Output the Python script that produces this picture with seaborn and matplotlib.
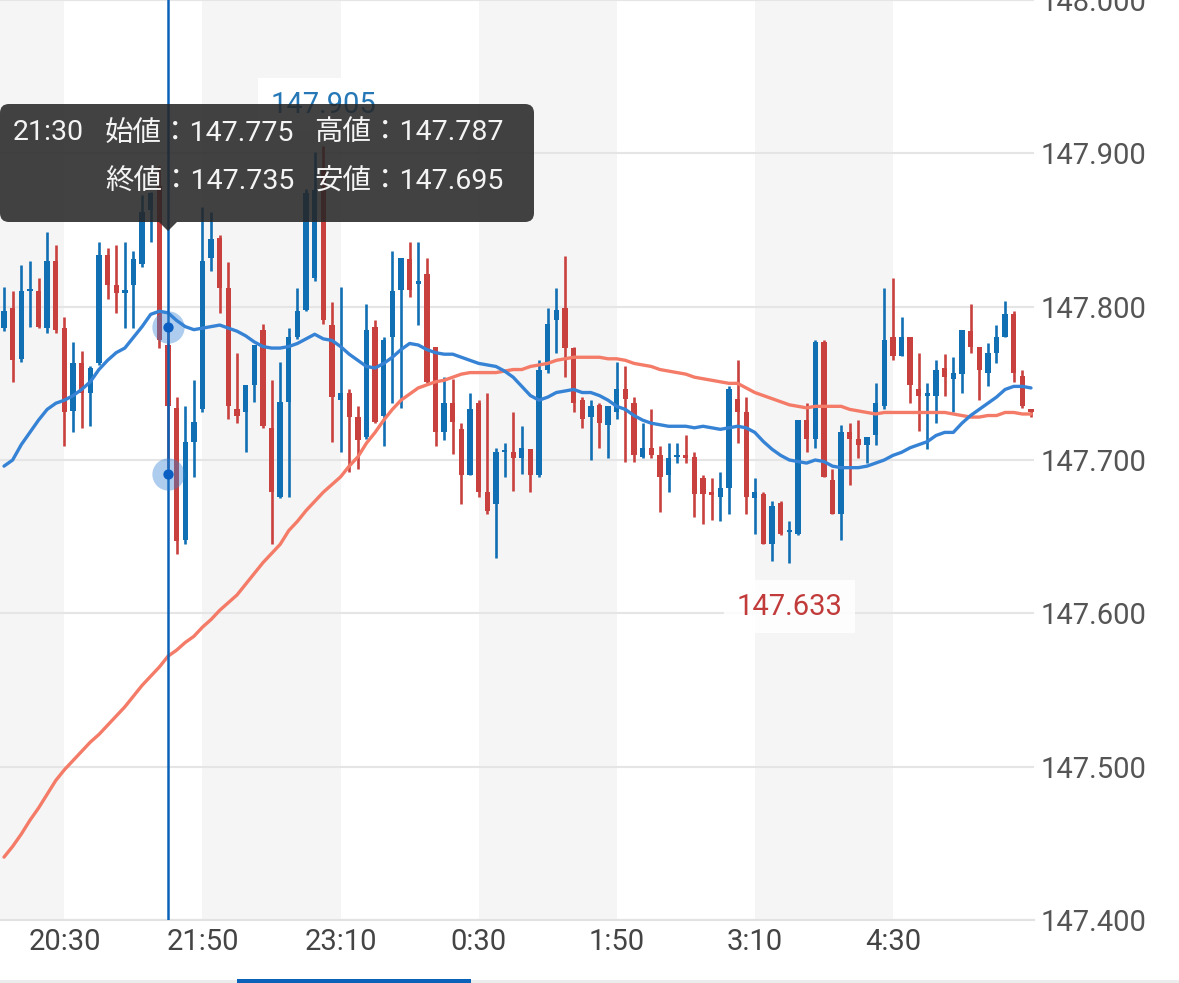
import numpy as np
import pandas as pd
import matplotlib.pyplot as plt
import seaborn as sns
from matplotlib.patches import FancyBboxPatch, Polygon, Rectangle
from matplotlib.transforms import IdentityTransform

# 5分足 19:55 - 5:50 (USD/JPY)
opens = [147.786, 147.799, 147.766, 147.810, 147.810, 147.786, 147.830, 147.786, 147.732, 147.763,
         147.744, 147.763, 147.834, 147.814, 147.809, 147.814, 147.828, 147.863, 147.879, 147.775,
         147.734, 147.648, 147.712, 147.733, 147.832, 147.845, 147.812, 147.733, 147.731, 147.749,
         147.785, 147.721, 147.676, 147.738, 147.780, 147.798, 147.819, 147.889, 147.788, 147.739,
         147.744, 147.728, 147.715, 147.787, 147.729, 147.780, 147.811, 147.831, 147.815, 147.821,
         147.774, 147.718, 147.737, 147.720, 147.690, 147.737, 147.679, 147.671, 147.705, 147.705,
         147.701, 147.707, 147.690, 147.759, 147.791, 147.799, 147.773, 147.739, 147.728, 147.736,
         147.723, 147.731, 147.746, 147.737, 147.702, 147.708, 147.703, 147.690, 147.702, 147.703,
         147.702, 147.688, 147.679, 147.676, 147.682, 147.740, 147.731, 147.675, 147.678, 147.645,
         147.672, 147.653, 147.652, 147.726, 147.714, 147.777, 147.687, 147.665, 147.718, 147.714,
         147.710, 147.716, 147.735, 147.780, 147.768, 147.780, 147.746, 147.742, 147.742, 147.760,
         147.753, 147.756, 147.784, 147.774, 147.757, 147.770, 147.780, 147.795, 147.755, 147.733]
highs = [147.813, 147.810, 147.827, 147.830, 147.819, 147.849, 147.840, 147.793, 147.777, 147.771,
         147.761, 147.842, 147.838, 147.840, 147.842, 147.836, 147.873, 147.875, 147.892, 147.787,
         147.741, 147.735, 147.752, 147.865, 147.862, 147.847, 147.829, 147.770, 147.749, 147.775,
         147.789, 147.752, 147.764, 147.786, 147.812, 147.877, 147.901, 147.905, 147.803, 147.813,
         147.746, 147.735, 147.802, 147.791, 147.780, 147.836, 147.832, 147.842, 147.842, 147.832,
         147.774, 147.754, 147.753, 147.724, 147.744, 147.739, 147.744, 147.708, 147.711, 147.731,
         147.722, 147.707, 147.765, 147.799, 147.812, 147.833, 147.774, 147.741, 147.739, 147.737,
         147.735, 147.764, 147.761, 147.741, 147.724, 147.733, 147.709, 147.711, 147.711, 147.716,
         147.705, 147.690, 147.688, 147.692, 147.748, 147.765, 147.741, 147.688, 147.679, 147.673,
         147.673, 147.660, 147.726, 147.737, 147.778, 147.778, 147.694, 147.723, 147.724, 147.726,
         147.715, 147.750, 147.812, 147.819, 147.793, 147.780, 147.770, 147.750, 147.765, 147.769,
         147.767, 147.785, 147.802, 147.774, 147.776, 147.788, 147.804, 147.797, 147.759, 147.733]
lows = [147.784, 147.751, 147.764, 147.787, 147.786, 147.783, 147.783, 147.709, 147.718, 147.721,
        147.722, 147.762, 147.805, 147.796, 147.786, 147.786, 147.826, 147.842, 147.773, 147.695,
        147.639, 147.645, 147.689, 147.731, 147.823, 147.796, 147.727, 147.724, 147.705, 147.738,
        147.721, 147.645, 147.675, 147.676, 147.779, 147.797, 147.817, 147.789, 147.712, 147.705,
        147.692, 147.694, 147.714, 147.724, 147.709, 147.737, 147.734, 147.806, 147.788, 147.750,
        147.709, 147.713, 147.704, 147.671, 147.690, 147.676, 147.665, 147.636, 147.689, 147.680,
        147.691, 147.679, 147.689, 147.757, 147.770, 147.754, 147.731, 147.721, 147.700, 147.708,
        147.701, 147.727, 147.699, 147.699, 147.701, 147.701, 147.666, 147.679, 147.698, 147.698,
        147.663, 147.658, 147.661, 147.660, 147.665, 147.711, 147.665, 147.652, 147.645, 147.634,
        147.651, 147.633, 147.651, 147.705, 147.708, 147.689, 147.665, 147.648, 147.684, 147.701,
        147.698, 147.710, 147.733, 147.765, 147.768, 147.737, 147.719, 147.707, 147.724, 147.742,
        147.731, 147.744, 147.770, 147.739, 147.748, 147.763, 147.780, 147.751, 147.734, 147.728]
closes = [147.797, 147.765, 147.810, 147.811, 147.787, 147.830, 147.785, 147.731, 147.763, 147.744,
          147.760, 147.834, 147.814, 147.809, 147.811, 147.831, 147.862, 147.874, 147.778, 147.735,
          147.647, 147.712, 147.725, 147.830, 147.844, 147.812, 147.735, 147.729, 147.749, 147.775,
          147.722, 147.679, 147.738, 147.780, 147.797, 147.874, 147.876, 147.791, 147.741, 147.744,
          147.728, 147.713, 147.785, 147.725, 147.778, 147.810, 147.832, 147.811, 147.817, 147.751,
          147.718, 147.737, 147.725, 147.690, 147.733, 147.679, 147.667, 147.705, 147.706, 147.701,
          147.708, 147.690, 147.759, 147.789, 147.798, 147.773, 147.737, 147.727, 147.735, 147.724,
          147.735, 147.746, 147.740, 147.703, 147.708, 147.703, 147.689, 147.701, 147.703, 147.701,
          147.678, 147.678, 147.677, 147.682, 147.746, 147.731, 147.676, 147.679, 147.645, 147.670,
          147.652, 147.654, 147.726, 147.714, 147.777, 147.689, 147.665, 147.718, 147.714, 147.710,
          147.715, 147.737, 147.778, 147.768, 147.780, 147.749, 147.742, 147.744, 147.759, 147.754,
          147.757, 147.785, 147.774, 147.759, 147.770, 147.780, 147.795, 147.757, 147.735, 147.731]

# 移動平均線 (短期・長期)
ma_short = [147.696, 147.700, 147.710, 147.718, 147.726, 147.733, 147.737, 147.739, 147.742, 147.746,
            147.751, 147.759, 147.765, 147.770, 147.773, 147.780, 147.787, 147.795, 147.797, 147.796,
            147.791, 147.787, 147.785, 147.786, 147.787, 147.788, 147.786, 147.784, 147.781, 147.777,
            147.774, 147.773, 147.773, 147.774, 147.776, 147.779, 147.782, 147.779, 147.778, 147.774,
            147.769, 147.765, 147.761, 147.760, 147.763, 147.767, 147.772, 147.776, 147.775, 147.772,
            147.770, 147.769, 147.769, 147.767, 147.765, 147.763, 147.762, 147.761, 147.758, 147.754,
            147.748, 147.742, 147.739, 147.741, 147.744, 147.745, 147.746, 147.744, 147.744, 147.742,
            147.739, 147.735, 147.733, 147.729, 147.726, 147.724, 147.723, 147.722, 147.722, 147.722,
            147.721, 147.722, 147.721, 147.720, 147.721, 147.722, 147.721, 147.718, 147.712, 147.707,
            147.703, 147.700, 147.699, 147.698, 147.700, 147.699, 147.696, 147.695, 147.695, 147.695,
            147.696, 147.698, 147.700, 147.703, 147.705, 147.708, 147.710, 147.712, 147.716, 147.718,
            147.718, 147.724, 147.729, 147.733, 147.737, 147.741, 147.746, 147.748, 147.748, 147.747]
ma_long = [147.441, 147.448, 147.456, 147.465, 147.473, 147.482, 147.491, 147.498, 147.504, 147.510,
           147.516, 147.521, 147.527, 147.533, 147.539, 147.546, 147.553, 147.559, 147.565, 147.572,
           147.576, 147.581, 147.585, 147.591, 147.596, 147.602, 147.607, 147.612, 147.619, 147.626,
           147.633, 147.639, 147.645, 147.654, 147.660, 147.667, 147.673, 147.679, 147.684, 147.689,
           147.696, 147.702, 147.711, 147.718, 147.726, 147.733, 147.739, 147.743, 147.747, 147.749,
           147.751, 147.752, 147.754, 147.756, 147.757, 147.757, 147.757, 147.757, 147.758, 147.759,
           147.759, 147.761, 147.762, 147.763, 147.765, 147.766, 147.767, 147.767, 147.767, 147.767,
           147.766, 147.766, 147.765, 147.763, 147.762, 147.761, 147.759, 147.758, 147.757, 147.756,
           147.754, 147.753, 147.752, 147.751, 147.750, 147.750, 147.747, 147.744, 147.742, 147.740,
           147.738, 147.736, 147.735, 147.734, 147.735, 147.735, 147.735, 147.735, 147.733, 147.732,
           147.731, 147.730, 147.731, 147.731, 147.731, 147.731, 147.731, 147.731, 147.731, 147.731,
           147.730, 147.729, 147.728, 147.728, 147.729, 147.729, 147.731, 147.731, 147.730, 147.730]

tick_pos = [7, 23, 39, 55, 71, 87, 103]
tick_labels = ['20:30', '21:50', '23:10', '0:30', '1:50', '3:10', '4:30']
y_ticks = [147.4, 147.5, 147.6, 147.7, 147.8, 147.9, 148.0]

cursor_idx = 19
cursor_marks = [147.787, 147.691]
hi_idx, lo_idx = 37, 91

UP = '#1170b3'
DOWN = '#c8413f'
MA_S = '#3683d5'
MA_L = '#f47b67'

sns.set_style('white')
plt.rcParams['font.family'] = ['Roboto', 'Noto Sans CJK JP', 'DejaVu Sans']

df = pd.DataFrame({'open': opens, 'high': highs, 'low': lows, 'close': closes,
                   'ma_s': ma_short, 'ma_l': ma_long})
df['idx'] = np.arange(len(df))
df['up'] = df['close'] >= df['open']

W, H = 1179, 983
fig = plt.figure(figsize=(W / 100, H / 100), dpi=100)
ax = fig.add_axes([0, 1 - 920 / H, 1034 / W, 920 / H])

# 背景の縞
for a, b in [(-0.464, 7), (23, 39), (55, 71), (87, 103)]:
    ax.axvspan(a, b, color='#f5f5f5', lw=0, zorder=0.2)

# ローソク足
col = np.where(df['up'], UP, DOWN)
ax.vlines(df['idx'], df['low'], df['high'], colors=col, lw=1.9, zorder=2)
body_lo = np.minimum(df['open'], df['close'])
body_h = np.maximum(np.abs(df['close'] - df['open']), 0.0014)
ax.bar(df['idx'], body_h, bottom=body_lo, width=0.62, color=col, lw=0, zorder=2)

sns.lineplot(data=df, x='idx', y='ma_l', ax=ax, color=MA_L, lw=2.4, zorder=3)
sns.lineplot(data=df, x='idx', y='ma_s', ax=ax, color=MA_S, lw=2.4, zorder=3)

# カーソル
ax.axvline(cursor_idx, color='#0a62b8', lw=1.8, zorder=4)
ax.scatter([cursor_idx] * 2, cursor_marks, s=540, color=MA_S, alpha=0.4, lw=0, zorder=5)
ax.scatter([cursor_idx] * 2, cursor_marks, s=55, color='#0b5fc2', lw=0, zorder=6)

# 最高値・最安値
ax.annotate(f"{highs[hi_idx]:.3f}", xy=(hi_idx, highs[hi_idx]), xytext=(0, 41),
            textcoords='offset pixels', ha='center', va='center', fontsize=21,
            color='#2578b5', zorder=7,
            bbox=dict(boxstyle='square,pad=0.42', fc='white', ec='none'))
ax.annotate(f"{lows[lo_idx]:.3f}", xy=(lo_idx, lows[lo_idx]), xytext=(0, -44),
            textcoords='offset pixels', ha='center', va='center', fontsize=21,
            color='#c23b3b', zorder=7,
            bbox=dict(boxstyle='square,pad=0.42', fc='white', ec='none', alpha=0.85))

ax.set_xlim(-0.464, 119.35)
ax.set_ylim(147.4, 148.0)
ax.set_xticks(tick_pos)
ax.set_xticklabels(tick_labels)
ax.set_yticks(y_ticks)
ax.set_yticklabels([f"{v:.3f}" for v in y_ticks])
ax.yaxis.tick_right()
ax.tick_params(axis='y', length=0, pad=4.5, labelsize=21, labelcolor='#555555')
ax.tick_params(axis='x', length=0, pad=6, labelsize=21, labelcolor='#444444')
ax.set_xlabel('')
ax.set_ylabel('')
ax.grid(axis='y', color='#e5e5e5', lw=1.5)
ax.grid(axis='x', visible=False)
ax.set_axisbelow(True)
for s in ['top', 'left', 'right']:
    ax.spines[s].set_visible(False)
ax.spines['bottom'].set_color('#e2e2e2')
ax.spines['bottom'].set_linewidth(1.5)

# ツールチップ (ピクセル座標)
tip = FancyBboxPatch((0, H - 222), 534, 118, boxstyle='round,pad=0,rounding_size=9',
                     transform=IdentityTransform(), fc='#262626', ec='none', alpha=0.87)
fig.add_artist(tip)
arrow = Polygon([(159, H - 222), (177, H - 222), (168, H - 231)], closed=True,
                transform=IdentityTransform(), fc='#262626', ec='none', alpha=0.87)
fig.add_artist(arrow)

tip_kw = dict(color='#f4f4f4', fontsize=20.5, va='center', ha='left')
fig.text(13 / W, 1 - 133 / H, '21:30', **tip_kw)
fig.text(105 / W, 1 - 133 / H, '始値：147.775', **tip_kw)
fig.text(314 / W, 1 - 133 / H, '高値：147.787', **tip_kw)
fig.text(105 / W, 1 - 181 / H, '終値：147.735', **tip_kw)
fig.text(314 / W, 1 - 181 / H, '安値：147.695', **tip_kw)

# 下部タブ
fig.add_artist(Rectangle((0, 0), W, 3, transform=IdentityTransform(), fc='#ececec', ec='none'))
fig.add_artist(Rectangle((237, 0), 234, 4, transform=IdentityTransform(), fc='#0a62b8', ec='none'))

fig.savefig('out.png', dpi=100)
